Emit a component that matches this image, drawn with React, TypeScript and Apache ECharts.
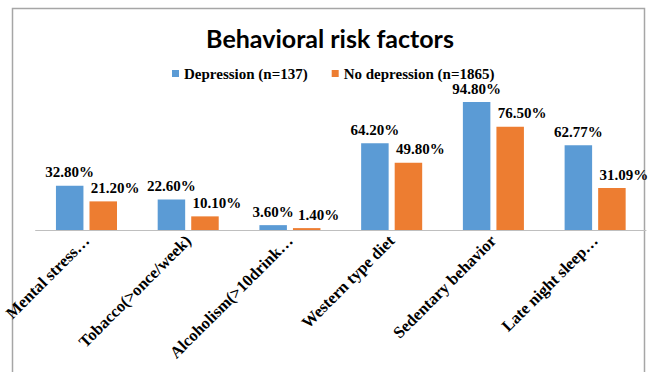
import React, { useEffect, useRef } from "react";
import * as echarts from "echarts";

const categories = [
  "Mental stress…",
  "Tobacco(>once/week)",
  "Alcoholism(>10drink…",
  "Western type diet",
  "Sedentary behavior",
  "Late night sleep…",
];
const depression = [32.8, 22.6, 3.6, 64.2, 94.8, 62.77];
const noDepression = [21.2, 10.1, 1.4, 49.8, 76.5, 31.09];
const seriesNames = ["Depression (n=137)", "No depression (n=1865)"];
const chartTitle = "Behavioral risk factors";

const TIMES = "'Liberation Serif', 'Times New Roman', serif";

export default function App() {
  const ref = useRef<HTMLDivElement>(null);
  useEffect(() => {
    if (!ref.current) return;
    const chart = echarts.init(ref.current, null, { renderer: "svg" });
    const labelFmt = (p: any) => p.value.toFixed(2) + "%";
    chart.setOption({
      animation: false,
      backgroundColor: "#ffffff",
      title: {
        text: chartTitle,
        left: 330,
        textAlign: "center",
        top: 25,
        padding: 0,
        textStyle: {
          fontFamily: "Lato, 'Open Sans', sans-serif",
          fontWeight: "bold",
          fontSize: 25,
          color: "#000000",
        },
      },
      legend: {
        left: 172,
        top: 66,
        padding: 0,
        itemWidth: 7,
        itemHeight: 7,
        itemGap: 24,
        icon: "rect",
        textStyle: {
          fontFamily: TIMES,
          fontWeight: "bold",
          fontSize: 15,
          color: "#000000",
          padding: [0, 0, 0, 0],
        },
        data: seriesNames,
      },
      grid: { left: 35.6, right: 2, top: 95, bottom: 142, containLabel: false },
      xAxis: {
        type: "category",
        data: categories,
        axisLine: { show: true, lineStyle: { color: "#bfbfbf", width: 1 } },
        axisTick: { show: false },
        axisLabel: {
          interval: 0,
          rotate: 45,
          margin: 8,
          fontFamily: TIMES,
          fontWeight: "bold",
          fontSize: 16.5,
          color: "#000000",
        },
      },
      yAxis: {
        type: "value",
        min: 0,
        max: 100,
        show: false,
        splitLine: { show: false },
      },
      series: [
        {
          name: seriesNames[0],
          type: "bar",
          data: depression,
          barGap: "22%",
          barCategoryGap: "40%",
          itemStyle: { color: "#5B9BD5" },
          label: {
            show: true,
            position: "top",
            distance: 6,
            formatter: labelFmt,
            fontFamily: TIMES,
            fontWeight: "bold",
            fontSize: 15,
            color: "#000000",
          },
        },
        {
          name: seriesNames[1],
          type: "bar",
          data: noDepression,
          barGap: "22%",
          barCategoryGap: "40%",
          itemStyle: { color: "#ED7D31" },
          label: {
            show: true,
            position: "top",
            distance: 6,
            offset: [12, 0],
            formatter: labelFmt,
            fontFamily: TIMES,
            fontWeight: "bold",
            fontSize: 15,
            color: "#000000",
          },
        },
      ],
      graphic: [
        {
          type: "rect",
          silent: true,
          shape: { x: 12.5, y: 8.5, width: 632, height: 400 },
          style: { fill: "none", stroke: "#a6a6a6", lineWidth: 1.5 },
        },
      ],
    });
    return () => chart.dispose();
  }, []);
  return (
    <div
      ref={ref}
      style={{ position: "fixed", left: 0, top: 0, width: 648, height: 372 }}
    />
  );
}
